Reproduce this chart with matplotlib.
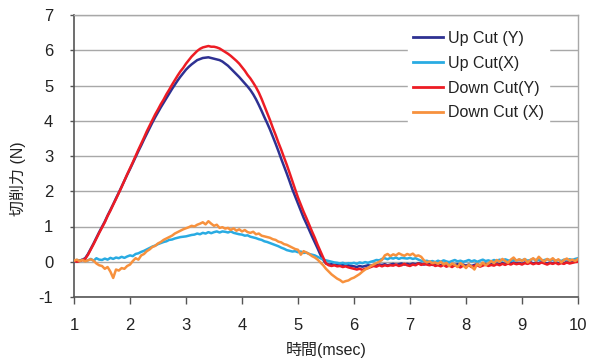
import numpy as np
import matplotlib
matplotlib.use("Agg")
import matplotlib.pyplot as plt

plt.rcParams['font.family'] = ['Liberation Sans', 'Noto Sans CJK JP', 'DejaVu Sans']

# Sampling times (msec), 0.05 msec step
t_start, t_stop, t_step = 1.0, 10.0, 0.05
time_ms = np.round(np.arange(t_start, t_stop + t_step / 2, t_step), 2)

up_cut_y = [
    0.02, 0.01, 0.03, 0.06, 0.10, 0.22, 0.37, 0.52, 0.68, 0.84,
    0.99, 1.14, 1.31, 1.47, 1.63, 1.80, 1.96, 2.13, 2.30, 2.47,
    2.63, 2.80, 2.97, 3.14, 3.30, 3.47, 3.63, 3.79, 3.95, 4.10,
    4.24, 4.38, 4.51, 4.64, 4.77, 4.90, 5.02, 5.14, 5.25, 5.35,
    5.45, 5.53, 5.60, 5.66, 5.72, 5.75, 5.78, 5.79, 5.80, 5.78,
    5.76, 5.74, 5.72, 5.68, 5.62, 5.56, 5.48, 5.40, 5.32, 5.24,
    5.15, 5.06, 4.97, 4.87, 4.75, 4.61, 4.45, 4.28, 4.10, 3.93,
    3.75, 3.55, 3.35, 3.14, 2.92, 2.71, 2.50, 2.28, 2.05, 1.85,
    1.65, 1.45, 1.25, 1.08, 0.90, 0.72, 0.55, 0.38, 0.20, 0.06,
    -0.05, -0.08, -0.07, -0.09, -0.08, -0.10, -0.09, -0.11, -0.10, -0.12,
    -0.13, -0.15, -0.12, -0.14, -0.12, -0.10, -0.11, -0.09, -0.10, -0.08,
    -0.09, -0.07, -0.10, -0.08, -0.06, -0.09, -0.07, -0.05, -0.08, -0.06,
    -0.08, -0.05, -0.07, -0.04, -0.06, -0.08, -0.05, -0.07, -0.09, -0.06,
    -0.08, -0.10, -0.07, -0.11, -0.08, -0.12, -0.09, -0.07, -0.10, -0.08,
    -0.11, -0.08, -0.12, -0.09, -0.07, -0.10, -0.08, -0.06, -0.09, -0.07,
    -0.08, -0.05, -0.07, -0.04, -0.06, -0.03, -0.05, -0.02, -0.05, -0.03,
    -0.06, -0.02, -0.04, -0.01, -0.05, -0.02, -0.04, 0.00, -0.03, -0.05,
    -0.02, -0.04, -0.01, -0.05, -0.02, -0.04, 0.00, -0.03, -0.01, 0.01,
    0.02,
]

up_cut_x = [
    0.02, 0.05, 0.03, 0.06, 0.02, 0.04, 0.08, 0.03, 0.10, 0.06,
    0.05, 0.09, 0.06, 0.11, 0.08, 0.12, 0.10, 0.14, 0.11, 0.15,
    0.18, 0.16, 0.22, 0.24, 0.28, 0.31, 0.35, 0.39, 0.43, 0.46,
    0.50, 0.53, 0.56, 0.58, 0.62, 0.63, 0.66, 0.68, 0.70, 0.71,
    0.72, 0.74, 0.76, 0.77, 0.80, 0.78, 0.82, 0.80, 0.84, 0.81,
    0.84, 0.86, 0.83, 0.86, 0.85, 0.83, 0.86, 0.82, 0.80, 0.78,
    0.77, 0.74, 0.75, 0.71, 0.69, 0.67, 0.64, 0.62, 0.58, 0.56,
    0.53, 0.50, 0.47, 0.44, 0.40, 0.37, 0.33, 0.31, 0.29, 0.30,
    0.27, 0.29, 0.25, 0.26, 0.22, 0.20, 0.18, 0.14, 0.10, 0.06,
    0.04, 0.02, 0.00, -0.02, -0.03, -0.05, -0.03, -0.06, -0.04, -0.05,
    -0.03, -0.06, -0.02, -0.04, -0.01, -0.03, 0.00, 0.02, 0.05, 0.04,
    0.08, 0.10, 0.07, 0.11, 0.09, 0.12, 0.08, 0.11, 0.10, 0.09,
    0.11, 0.08, 0.10, 0.06, 0.03, 0.01, 0.03, 0.00, 0.02, -0.01,
    0.03, 0.00, 0.04, 0.01, -0.01, 0.02, 0.05, 0.01, 0.03, 0.00,
    0.02, 0.05, 0.01, 0.04, 0.00, 0.03, 0.06, 0.02, 0.04, 0.01,
    0.05, 0.02, 0.06, 0.03, 0.07, 0.04, 0.02, 0.05, 0.03, 0.06,
    0.04, 0.07, 0.03, 0.05, 0.08, 0.04, 0.06, 0.03, 0.05, 0.07,
    0.04, 0.06, 0.03, 0.05, 0.02, 0.06, 0.04, 0.07, 0.05, 0.08,
    0.10,
]

down_cut_y = [
    0.03, 0.00, 0.02, 0.05, 0.08, 0.20, 0.35, 0.50, 0.66, 0.82,
    0.97, 1.12, 1.30, 1.45, 1.62, 1.78, 1.95, 2.12, 2.30, 2.48,
    2.65, 2.82, 3.00, 3.18, 3.35, 3.52, 3.70, 3.86, 4.02, 4.18,
    4.32, 4.47, 4.60, 4.75, 4.88, 5.02, 5.15, 5.28, 5.40, 5.50,
    5.62, 5.72, 5.82, 5.90, 5.98, 6.04, 6.08, 6.10, 6.12, 6.10,
    6.10, 6.08, 6.05, 6.00, 5.95, 5.90, 5.84, 5.77, 5.70, 5.62,
    5.52, 5.42, 5.30, 5.20, 5.08, 4.95, 4.80, 4.62, 4.42, 4.22,
    4.02, 3.80, 3.60, 3.38, 3.18, 2.96, 2.75, 2.52, 2.28, 2.05,
    1.82, 1.62, 1.42, 1.24, 1.05, 0.86, 0.68, 0.48, 0.30, 0.12,
    -0.05, -0.10, -0.12, -0.10, -0.13, -0.12, -0.15, -0.13, -0.16, -0.18,
    -0.20, -0.22, -0.20, -0.23, -0.20, -0.18, -0.15, -0.12, -0.14, -0.10,
    -0.13, -0.10, -0.12, -0.10, -0.11, -0.08, -0.12, -0.10, -0.06, -0.10,
    -0.12, -0.08, -0.10, -0.05, -0.09, -0.06, -0.08, -0.10, -0.07, -0.12,
    -0.10, -0.13, -0.09, -0.14, -0.11, -0.15, -0.10, -0.13, -0.16, -0.11,
    -0.14, -0.10, -0.15, -0.12, -0.10, -0.14, -0.11, -0.08, -0.12, -0.09,
    -0.11, -0.07, -0.10, -0.06, -0.09, -0.05, -0.08, -0.04, -0.07, -0.05,
    -0.08, -0.04, -0.06, -0.03, -0.07, -0.04, -0.06, -0.02, -0.05, -0.08,
    -0.04, -0.06, -0.03, -0.07, -0.04, -0.06, -0.02, -0.05, -0.03, -0.01,
    0.00,
]

down_cut_x = [
    0.03, 0.06, 0.02, 0.05, 0.01, 0.04, 0.07, 0.03, -0.05, -0.10,
    -0.12, -0.20, -0.15, -0.28, -0.46, -0.22, -0.25, -0.18, -0.20, -0.12,
    -0.08, 0.02, 0.10, 0.06, 0.18, 0.22, 0.30, 0.35, 0.42, 0.45,
    0.52, 0.56, 0.62, 0.66, 0.70, 0.74, 0.80, 0.84, 0.88, 0.92,
    0.95, 0.98, 1.02, 1.00, 1.05, 1.08, 1.12, 1.06, 1.15, 1.08,
    1.02, 1.05, 0.96, 0.98, 0.94, 0.96, 0.90, 0.95, 0.88, 0.92,
    0.86, 0.90, 0.84, 0.82, 0.85, 0.78, 0.80, 0.74, 0.72, 0.70,
    0.68, 0.64, 0.62, 0.57, 0.55, 0.50, 0.48, 0.44, 0.40, 0.36,
    0.34, 0.20, 0.30, 0.26, 0.22, 0.16, 0.12, 0.06, -0.02, -0.10,
    -0.20, -0.28, -0.36, -0.42, -0.48, -0.52, -0.58, -0.55, -0.53, -0.48,
    -0.45, -0.40, -0.35, -0.28, -0.22, -0.18, -0.12, -0.08, -0.04, 0.00,
    0.05, 0.18, 0.22, 0.16, 0.21, 0.18, 0.24, 0.20, 0.17, 0.22,
    0.19, 0.23, 0.16, 0.18, 0.14, 0.04, -0.02, 0.01, -0.04, -0.02,
    -0.06, 0.00, -0.08, -0.03, -0.12, -0.05, -0.09, -0.15, -0.04, -0.10,
    -0.18, -0.08, -0.14, -0.22, -0.06, -0.12, -0.02, -0.10, -0.05, 0.02,
    -0.04, 0.05, 0.00, 0.08, 0.02, -0.03, 0.06, 0.12, 0.03, 0.07,
    0.02, 0.08, -0.02, 0.05, 0.10, 0.03, 0.14, 0.06, 0.01, 0.08,
    0.04, 0.10, 0.02, 0.07, -0.02, 0.05, 0.09, 0.03, 0.06, 0.02,
    0.08,
]

series_labels = ["Up Cut (Y)", "Up Cut(X)", "Down Cut(Y)", "Down Cut (X)"]
series_colors = ["#2e3192", "#29abe2", "#ed1c24", "#f7913d"]
series_values = [up_cut_y, up_cut_x, down_cut_y, down_cut_x]

x_ticks = [1, 2, 3, 4, 5, 6, 7, 8, 9, 10]
y_ticks = [-1, 0, 1, 2, 3, 4, 5, 6, 7]

text_color = "#222222"
W, H = 598, 364

fig = plt.figure(figsize=(W / 100, H / 100), dpi=100)
ax = fig.add_axes([74 / W, 1 - 297 / H, 504 / W, 282 / H])

for vals, col, lab in zip(series_values, series_colors, series_labels):
    ax.plot(time_ms, vals, color=col, lw=1.8, label=lab, zorder=3)

ax.set_xlim(1, 10)
ax.set_ylim(-1, 7)
ax.set_xticks(x_ticks)
ax.set_yticks(y_ticks)
ax.set_xticklabels([str(v) for v in x_ticks])
ax.set_yticklabels([str(v) for v in y_ticks])

ax.grid(axis="y", color="#a8a8a8", lw=1.0, zorder=1)
ax.set_axisbelow(True)

for side in ("top", "right"):
    ax.spines[side].set_color("#a8a8a8")
    ax.spines[side].set_linewidth(1.0)
for side in ("left", "bottom"):
    ax.spines[side].set_color("#555555")
    ax.spines[side].set_linewidth(1.2)

ax.tick_params(axis="x", length=5, width=1.0, color="#555555", pad=10,
               labelsize=12, labelcolor=text_color)
ax.tick_params(axis="y", length=3, width=1.0, color="#555555", pad=12,
               labelsize=12, labelcolor=text_color)

ax.set_xlabel("時間(msec)", fontsize=11.5, color=text_color)
ax.xaxis.set_label_coords(0.5, -0.16)
ax.set_ylabel("切削力 (N)", fontsize=11.5, color=text_color)
ax.yaxis.set_label_coords(-0.096, 0.42)

leg = ax.legend(loc="upper left", bbox_to_anchor=(400 / W, 1 - 18 / H),
                bbox_transform=fig.transFigure, frameon=True,
                fontsize=11.5, handlelength=1.9, handletextpad=0.3,
                labelspacing=0.62, borderpad=0.3, fancybox=False)
leg.get_frame().set_edgecolor("white")
leg.get_frame().set_facecolor("white")
leg.get_frame().set_alpha(1.0)
for txt in leg.get_texts():
    txt.set_color(text_color)
for line in leg.get_lines():
    line.set_linewidth(2.0)

fig.savefig("out.png", dpi=100, facecolor="white")
